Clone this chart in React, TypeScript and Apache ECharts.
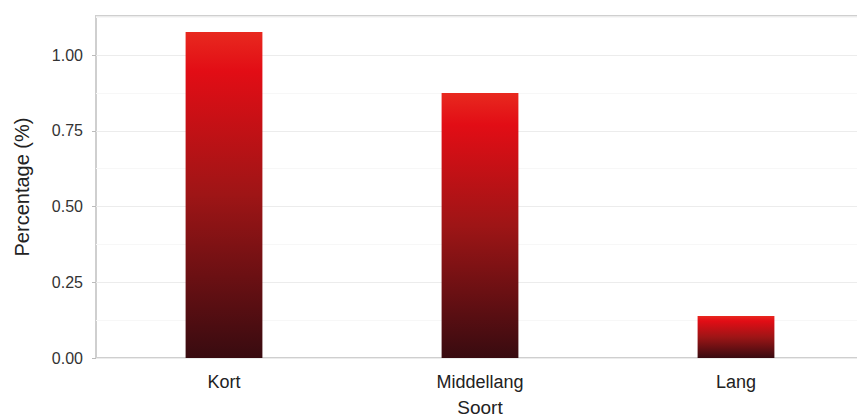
import React, { useEffect, useRef } from "react";
import * as echarts from "echarts";

const categories = ["Kort", "Middellang", "Lang"];
const values = [1.076, 0.875, 0.139];
const yTicks = [0, 0.25, 0.5, 0.75, 1.0];

export default function App() {
  const ref = useRef<HTMLDivElement>(null);
  useEffect(() => {
    if (!ref.current) return;
    const chart = echarts.init(ref.current, undefined, { renderer: "svg" });
    const grad = new echarts.graphic.LinearGradient(0, 0, 0, 1, [
      { offset: 0, color: "#e8291f" },
      { offset: 0.12, color: "#e20d15" },
      { offset: 0.5, color: "#9e1516" },
      { offset: 1, color: "#380b10" },
    ]);
    chart.setOption({
      animation: false,
      backgroundColor: "#ffffff",
      grid: {
        left: 96,
        top: 16,
        width: 768,
        height: 342,
        outerBoundsMode: "none",
        containLabel: false,
        show: true,
        borderColor: "#cfcfcf",
        borderWidth: 2,
      },
      xAxis: {
        type: "category",
        data: categories,
        name: "Soort",
        nameLocation: "middle",
        nameGap: 40,
        nameTextStyle: { fontFamily: "Liberation Sans", fontSize: 19, color: "#222" },
        axisLine: { show: false },
        axisTick: { show: false },
        axisLabel: { fontFamily: "Liberation Sans", fontSize: 18, color: "#222", margin: 15 },
      },
      yAxis: {
        type: "value",
        min: 0,
        max: 1.129,
        interval: 0.25,
        name: "Percentage (%)",
        nameLocation: "middle",
        nameGap: 64,
        nameTextStyle: { fontFamily: "Liberation Sans", fontSize: 20, color: "#222" },
        axisLine: { show: false },
        axisTick: { show: true, length: 4, lineStyle: { color: "#bbb" } },
        axisLabel: {
          fontFamily: "Liberation Sans",
          fontSize: 16,
          color: "#333",
          margin: 13,
          showMaxLabel: false,
          formatter: (v: number) => (yTicks.some((t) => Math.abs(t - v) < 1e-6) ? v.toFixed(2) : ""),
        },
        splitLine: { show: true, lineStyle: { color: "#ececec", width: 1 } },
        minorTick: { show: false, splitNumber: 2 },
        minorSplitLine: { show: true, lineStyle: { color: "#f7f7f7", width: 1 } },
      },
      series: [
        {
          type: "bar",
          data: values,
          barWidth: "30%",
          itemStyle: { color: grad },
        },
      ],
    });
    return () => chart.dispose();
  }, []);
  return <div ref={ref} style={{ width: 857, height: 418, position: "absolute", left: 0, top: 0 }} />;
}
